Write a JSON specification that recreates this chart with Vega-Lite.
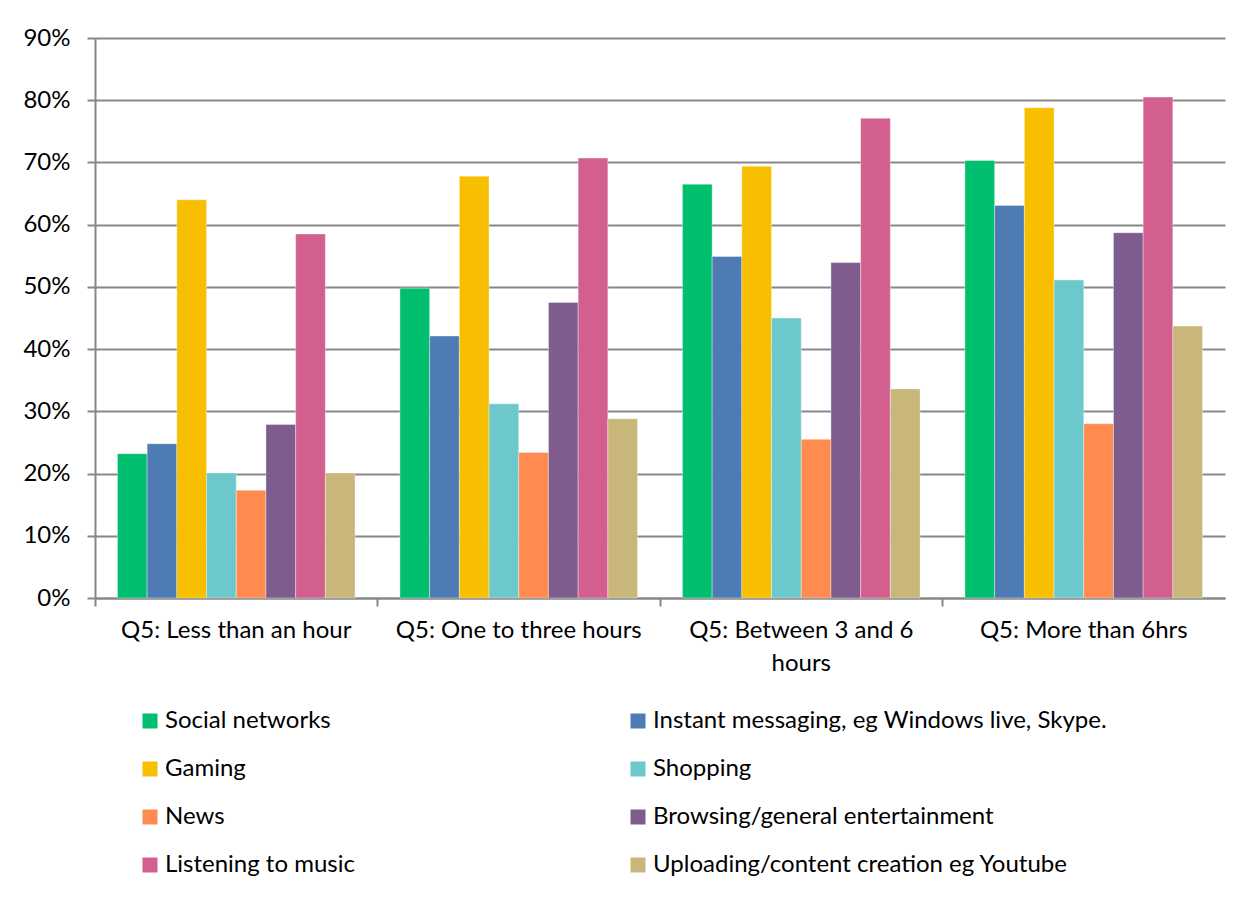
{
  "$schema": "https://vega.github.io/schema/vega-lite/v6.json",
  "width": 1130,
  "height": 560,
  "autosize": {"type": "none"},
  "padding": {"left": 95, "top": 38, "right": 32, "bottom": 300},
  "background": "white",
  "config": {"view": {"stroke": null}, "font": "Lato"},
  "data": {
    "values": [
      {"period": "Q5: Less than an hour", "activity": "Social networks", "share": 0.232},
      {"period": "Q5: Less than an hour", "activity": "Instant messaging, eg Windows live, Skype.", "share": 0.248},
      {"period": "Q5: Less than an hour", "activity": "Gaming", "share": 0.640},
      {"period": "Q5: Less than an hour", "activity": "Shopping", "share": 0.201},
      {"period": "Q5: Less than an hour", "activity": "News", "share": 0.173},
      {"period": "Q5: Less than an hour", "activity": "Browsing/general entertainment", "share": 0.279},
      {"period": "Q5: Less than an hour", "activity": "Listening to music", "share": 0.585},
      {"period": "Q5: Less than an hour", "activity": "Uploading/content creation eg Youtube", "share": 0.201},
      {"period": "Q5: One to three hours", "activity": "Social networks", "share": 0.498},
      {"period": "Q5: One to three hours", "activity": "Instant messaging, eg Windows live, Skype.", "share": 0.421},
      {"period": "Q5: One to three hours", "activity": "Gaming", "share": 0.678},
      {"period": "Q5: One to three hours", "activity": "Shopping", "share": 0.312},
      {"period": "Q5: One to three hours", "activity": "News", "share": 0.234},
      {"period": "Q5: One to three hours", "activity": "Browsing/general entertainment", "share": 0.475},
      {"period": "Q5: One to three hours", "activity": "Listening to music", "share": 0.707},
      {"period": "Q5: One to three hours", "activity": "Uploading/content creation eg Youtube", "share": 0.288},
      {"period": "Q5: Between 3 and 6 hours", "activity": "Social networks", "share": 0.665},
      {"period": "Q5: Between 3 and 6 hours", "activity": "Instant messaging, eg Windows live, Skype.", "share": 0.549},
      {"period": "Q5: Between 3 and 6 hours", "activity": "Gaming", "share": 0.694},
      {"period": "Q5: Between 3 and 6 hours", "activity": "Shopping", "share": 0.450},
      {"period": "Q5: Between 3 and 6 hours", "activity": "News", "share": 0.255},
      {"period": "Q5: Between 3 and 6 hours", "activity": "Browsing/general entertainment", "share": 0.539},
      {"period": "Q5: Between 3 and 6 hours", "activity": "Listening to music", "share": 0.771},
      {"period": "Q5: Between 3 and 6 hours", "activity": "Uploading/content creation eg Youtube", "share": 0.336},
      {"period": "Q5: More than 6hrs", "activity": "Social networks", "share": 0.703},
      {"period": "Q5: More than 6hrs", "activity": "Instant messaging, eg Windows live, Skype.", "share": 0.631},
      {"period": "Q5: More than 6hrs", "activity": "Gaming", "share": 0.788},
      {"period": "Q5: More than 6hrs", "activity": "Shopping", "share": 0.511},
      {"period": "Q5: More than 6hrs", "activity": "News", "share": 0.280},
      {"period": "Q5: More than 6hrs", "activity": "Browsing/general entertainment", "share": 0.587},
      {"period": "Q5: More than 6hrs", "activity": "Listening to music", "share": 0.805},
      {"period": "Q5: More than 6hrs", "activity": "Uploading/content creation eg Youtube", "share": 0.437}
    ]
  },
  "mark": {"type": "bar", "stroke": "white", "strokeWidth": 0.6, "strokeOpacity": 0.6},
  "encoding": {
    "x": {
      "field": "period",
      "type": "nominal",
      "sort": ["Q5: Less than an hour", "Q5: One to three hours", "Q5: Between 3 and 6 hours", "Q5: More than 6hrs"],
      "scale": {"paddingInner": 0, "paddingOuter": 0},
      "axis": {
        "title": null,
        "bandPosition": 0,
        "labelAngle": 0,
        "labelFontSize": 24,
        "labelColor": "black",
        "labelPadding": 12,
        "labelBaseline": "top",
        "labelLineHeight": 33,
        "labelOverlap": false,
        "labelFlush": false,
        "labelLimit": 0,
        "labelExpr": "datum.value == 'Q5: Between 3 and 6 hours' ? ['Q5: Between 3 and 6', 'hours'] : datum.value",
        "tickSize": 8,
        "tickWidth": 2,
        "tickColor": "#878787",
        "domainColor": "#878787",
        "domainWidth": 2,
        "grid": false
      }
    },
    "xOffset": {
      "field": "activity",
      "type": "nominal",
      "sort": ["Social networks", "Instant messaging, eg Windows live, Skype.", "Gaming", "Shopping", "News", "Browsing/general entertainment", "Listening to music", "Uploading/content creation eg Youtube"],
      "scale": {"paddingInner": 0, "paddingOuter": 0.756}
    },
    "y": {
      "field": "share",
      "type": "quantitative",
      "scale": {"domain": [0, 0.9], "nice": false},
      "axis": {
        "title": null,
        "values": [0, 0.1, 0.2, 0.3, 0.4, 0.5, 0.6, 0.7, 0.8, 0.9],
        "format": ".0%",
        "grid": true,
        "gridColor": "#878787",
        "gridWidth": 2,
        "domainColor": "#878787",
        "domainWidth": 2,
        "tickColor": "#878787",
        "tickWidth": 2,
        "tickSize": 8,
        "labelFontSize": 24,
        "labelColor": "black",
        "labelPadding": 17
      }
    },
    "color": {
      "field": "activity",
      "type": "nominal",
      "scale": {
        "domain": ["Social networks", "Gaming", "News", "Listening to music", "Instant messaging, eg Windows live, Skype.", "Shopping", "Browsing/general entertainment", "Uploading/content creation eg Youtube"],
        "range": ["#00BF6F", "#F8BE00", "#FF8B50", "#D25F8E", "#4F7BB4", "#6DC8CC", "#7E5D8E", "#C8B67A"]
      },
      "legend": {
        "title": null,
        "orient": "none",
        "legendX": 43,
        "legendY": 671,
        "columns": 2,
        "columnPadding": 271,
        "rowPadding": 24,
        "symbolType": "square",
        "symbolSize": 225,
        "symbolStrokeWidth": 0,
        "labelFontSize": 24,
        "labelColor": "black",
        "labelOffset": 3,
        "labelLimit": 0
      }
    }
  }
}
